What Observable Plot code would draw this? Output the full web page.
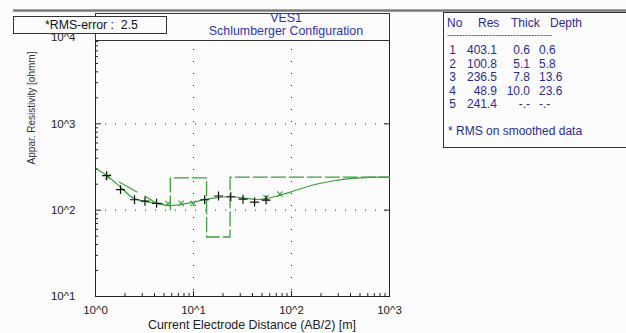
<!DOCTYPE html>
<html><head><meta charset="utf-8">
<script src="https://cdn.jsdelivr.net/npm/d3@7"></script>
<script src="https://cdn.jsdelivr.net/npm/@observablehq/plot@0.6"></script>
<style>
body{margin:0;background:#fbfbfb;}
#wrap{position:relative;width:626px;height:333px;overflow:hidden;background:#fbfbfb;font-family:"Liberation Sans",Arial,sans-serif;}
#chart{position:absolute;left:0;top:0;}
.box{position:absolute;box-sizing:border-box;border:1px solid #333;background:#fbfbfb;}
.t{position:absolute;white-space:pre;line-height:14px;}
</style></head><body>
<div id="wrap"><div id="chart"></div></div>
<script>
// ---- data ----
const fieldAB   = [1.3, 1.8, 2.5, 3.2, 4.2, 13, 18, 24, 32, 42, 55];
const fieldRho  = [251, 173, 132, 127, 120, 132, 146, 143, 134, 124, 131];
const modelAB   = [1.02, 1.3, 1.83, 2.42, 3.11, 4.26, 5.6, 7.37, 10.1, 13.3, 18.1, 23.8, 32.6, 42.8, 55.1, 74.3, 97.5, 169, 270, 432, 695, 1000];
const modelRho  = [302, 252, 182, 138, 127, 119, 113, 116, 124, 133, 141, 143, 138, 133, 136, 148, 162, 197, 219, 233, 241, 241];
const smoothAB  = [1.33, 5.5, 7.5, 9.9, 55, 76];
const smoothRho = [245, 119, 120, 120, 139, 153];
const trendAB   = [1.76, 2.66, 3.24, 4.26, 5.5];
const trendRho  = [211, 162, 144, 119, 119];
const layerNo    = [1, 2, 3, 4, 5];
const layerRes   = [403.1, 100.8, 236.5, 48.9, 241.4];
const layerThick = [0.6, 5.1, 7.8, 10.0, null];
const layerDepth = [0.6, 5.8, 13.6, 23.6, null];
const xTicks = [1, 10, 100, 1000];
const xTickLabels = ["10^0", "10^1", "10^2", "10^3"];
const yTicks = [10, 100, 1000, 10000];
const yTickLabels = ["10^1", "10^2", "10^3", "10^4"];
const rmsError = 2.5;
const title = "VES1";
const subtitle = "Schlumberger Configuration";
const xTitle = "Current Electrode Distance (AB/2) [m]";
const yTitle = "Appar. Resistivity [ohmm]";

// ---- derived tables ----
const field = fieldAB.map((x, i) => ({x, y: fieldRho[i]}));
const model = modelAB.map((x, i) => ({x, y: modelRho[i]}));
const smooth = smoothAB.map((x, i) => ({x, y: smoothRho[i]}));
const trend = trendAB.map((x, i) => ({x, y: trendRho[i]}));
const xMax = xTicks[xTicks.length - 1];
const step = [];
for (let i = 1; i < layerRes.length - 1; i++) {
  step.push({x: layerDepth[i], y: layerRes[i]});
  step.push({x: layerDepth[i], y: layerRes[i + 1]});
}
step.push({x: xMax, y: layerRes[layerRes.length - 1]});
const minorOf = ds => ds.flatMap(d => [2,3,4,5,6,7,8,9].map(k => k * d));
const xMinor = minorOf(xTicks.slice(0, -1));
const yMinor = minorOf(yTicks.slice(0, -1));

const W = 626, H = 333, mL = 95, mR = 237, mT = 37, mB = 37;
const fw = W - mL - mR, fh = H - mT - mB;
const green = "#3c9f3c";

const chart = Plot.plot({
  width: W, height: H,
  marginLeft: mL, marginRight: mR, marginTop: mT, marginBottom: mB,
  x: {type: "log", domain: [xTicks[0], xMax]},
  y: {type: "log", domain: [yTicks[0], yTicks[yTicks.length - 1]]},
  style: {background: "transparent", fontFamily: "'Liberation Sans', Arial, sans-serif", fontSize: "11.5px", color: "#222"},
  marks: [
    Plot.ruleX(xTicks.slice(1, -1), {stroke: "#333", strokeDasharray: "1,11"}),
    Plot.ruleY(yTicks.slice(1, -1), {stroke: "#333", strokeDasharray: "1,9"}),
    Plot.tickY(yTicks, {stroke: "#222", insetRight: fw - 6}),
    Plot.tickY(yMinor, {stroke: "#222", insetRight: fw - 3}),
    Plot.tickY(yTicks, {stroke: "#222", insetLeft: fw - 5}),
    Plot.tickX(xTicks, {stroke: "#222", insetTop: fh - 5}),
    Plot.tickX(xMinor, {stroke: "#222", insetTop: fh - 3}),
    Plot.frame({stroke: "#222"}),
    Plot.axisX({ticks: xTicks, tickFormat: d => xTickLabels[xTicks.indexOf(d)], tickSize: 0, tickPadding: 9, label: null}),
    Plot.axisY({ticks: yTicks, tickFormat: d => yTickLabels[yTicks.indexOf(d)], tickSize: 0, tickPadding: 20, label: null}),
    Plot.line(step, {x: "x", y: "y", stroke: green, strokeWidth: 1.3, strokeDasharray: "14,4"}),
    Plot.line(trend, {x: "x", y: "y", stroke: green, strokeWidth: 1.2, strokeDasharray: "20,9"}),
    Plot.line(model, {x: "x", y: "y", stroke: green, strokeWidth: 1.2, curve: "catmull-rom"}),
    Plot.dot(smooth, {x: "x", y: "y", symbol: "times", r: 2.6, stroke: green, strokeWidth: 1.1}),
    Plot.dot(field, {x: "x", y: "y", symbol: "plus", r: 3, stroke: "#111", strokeWidth: 1.2})
  ]
});
document.getElementById("chart").append(chart);

// ---- overlays (frames and text) ----
const wrap = document.getElementById("wrap");
function el(cls, css, text) {
  const d = document.createElement("div");
  d.className = cls;
  Object.assign(d.style, css);
  if (text != null) d.textContent = text;
  wrap.append(d);
  return d;
}
el("", {position: "absolute", left: "13px", right: "0px", top: "9px", height: "3px", background: "linear-gradient(#bbb,#777,#aaa)"});
// title box
el("box", {left: mL + "px", top: "13px", width: (fw + 1) + "px", height: (mT - 13 + 4) + "px"});
el("t", {left: "186px", width: "200px", textAlign: "center", top: "10.5px", fontSize: "12.4px", color: "#3434a6"}, title);
el("t", {left: "186px", width: "200px", textAlign: "center", top: "24px", fontSize: "12.4px", color: "#3434a6"}, subtitle);
// RMS box
el("box", {left: "13px", top: "16px", width: "154px", height: "18px"});
el("t", {left: "45px", top: "18px", fontSize: "12.3px", color: "#111"}, "*RMS-error :  " + rmsError.toFixed(1));
// layer table
el("box", {left: "443px", top: "12px", width: "200px", height: "136px"});
const tc = "#2c2c8c", fs = "12px";
[["No", 447], ["Res", 478], ["Thick", 511], ["Depth", 550]].forEach(([s, x]) =>
  el("t", {left: x + "px", top: "15.5px", fontSize: fs, color: tc}, s));
el("t", {left: "447px", top: "32px", lineHeight: "6px", height: "6px", fontSize: "9px", color: tc}, "-".repeat(35));
layerNo.forEach((n, i) => {
  const top = (43.3 + 13.45 * i) + "px";
  el("t", {left: "436px", width: "20px", textAlign: "right", top, fontSize: fs, color: tc}, String(n));
  el("t", {left: "457px", width: "40px", textAlign: "right", top, fontSize: fs, color: tc}, layerRes[i].toFixed(1));
  el("t", {left: "500px", width: "30px", textAlign: "right", top, fontSize: fs, color: tc}, layerThick[i] == null ? "-.-" : layerThick[i].toFixed(1));
  el("t", {left: "539px", top, fontSize: fs, color: tc}, layerDepth[i] == null ? "-.-" : layerDepth[i].toFixed(1));
});
el("t", {left: "448px", top: "123.7px", fontSize: fs, color: tc}, "* RMS on smoothed data");
// axis titles
el("t", {left: "102px", width: "300px", textAlign: "center", top: "318px", fontSize: "12.4px", color: "#222"}, xTitle);
el("t", {left: "32px", top: "107.5px", fontSize: "10px", color: "#333", transform: "translate(-50%,-50%) rotate(-90deg)"}, yTitle);
</script>
</body></html>
